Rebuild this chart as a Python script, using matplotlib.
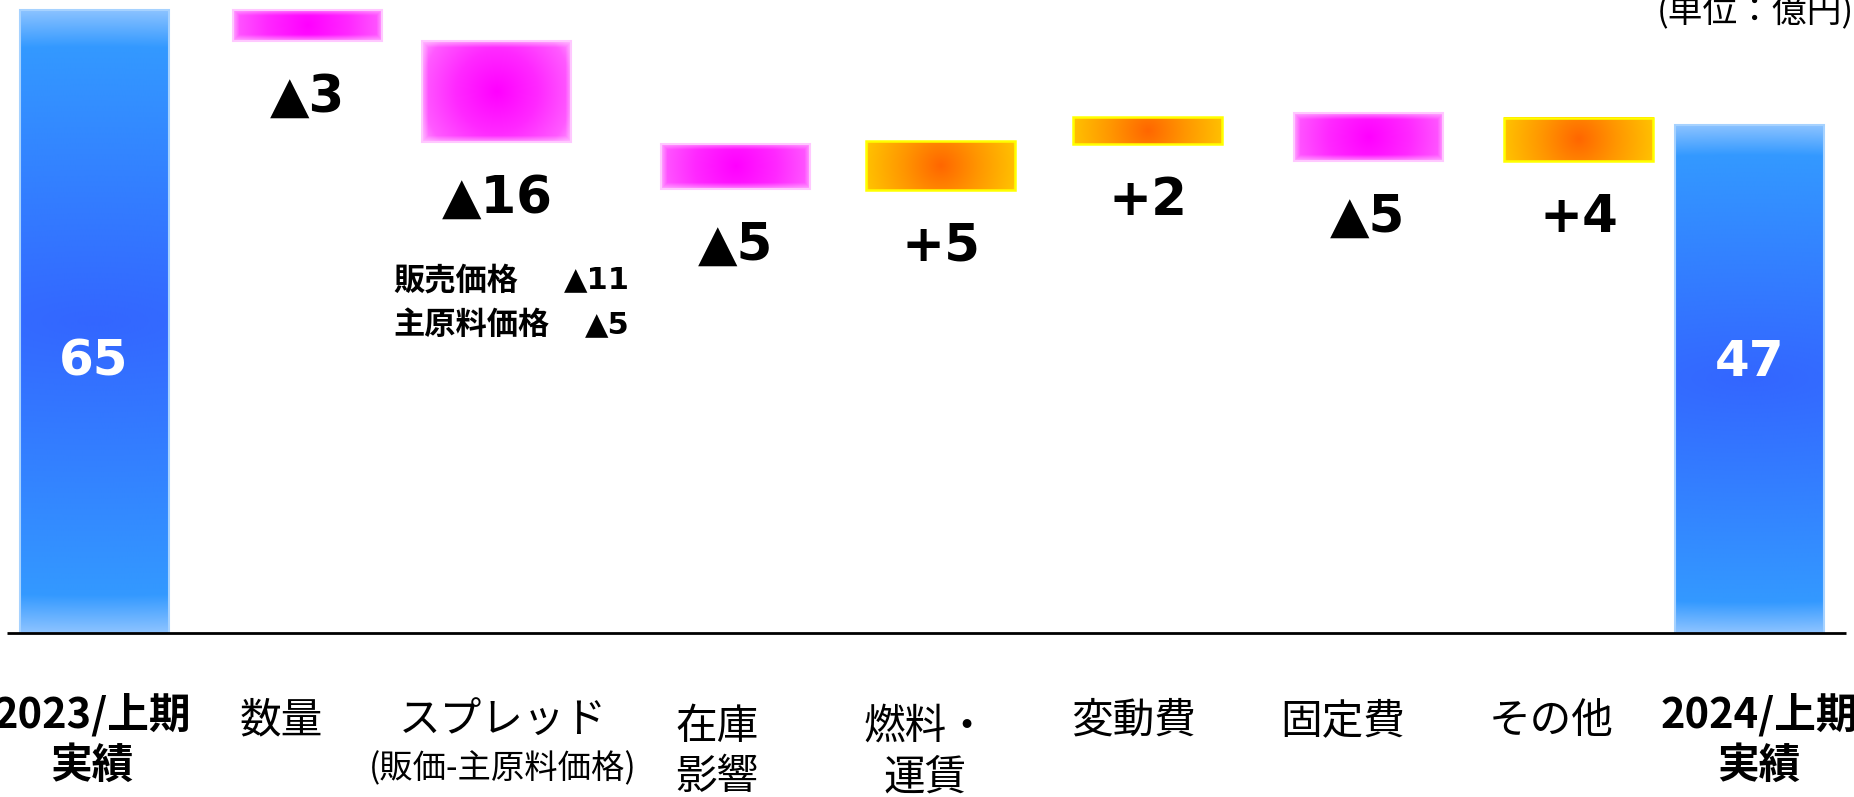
import numpy as np
import matplotlib.pyplot as plt
from matplotlib.patches import Rectangle

plt.rcParams['font.family'] = ['Noto Sans CJK JP', 'DejaVu Sans']

categories = ['2023/上期\n実績', '数量', 'スプレッド', '在庫\n影響', '燃料・\n運賃',
              '変動費', '固定費', 'その他', '2024/上期\n実績']
values = [65, -3, -16, -5, 5, 2, -5, 4, 47]
kinds = ['total', 'neg', 'neg', 'neg', 'pos', 'pos', 'neg', 'pos', 'total']
# bar extents as drawn in the source slide (not to scale with the values)
bar_low = [0, 61.7, 51.2, 46.3, 46.2, 51.0, 49.2, 49.2, 0]
bar_high = [65, 65, 61.7, 51.0, 51.3, 53.8, 54.2, 53.7, 53.0]
spread_sub = '(販価-主原料価格)'
note_names = ['販売価格', '主原料価格']
note_values = [-11, -5]
unit_label = '(単位：億円)'

# layout
W, H, DPI = 18.54, 7.97, 100
XLIM = (-0.4415, 8.455)
YLIM = (-17.1, 66.0)
bar_w = 0.715
bar_shift = [0.01, 0.034, -0.057, 0.09, 0.072, 0.065, 0.123, 0.135, -0.047]
label_shift = [0, -0.09, -0.03, 0, 0, 0, 0, 0, 0]

fig = plt.figure(figsize=(W, H), dpi=DPI)
ax = fig.add_axes([0, 0, 1, 1])

px_x = W * DPI / (XLIM[1] - XLIM[0])
px_y = H * DPI / (YLIM[1] - YLIM[0])

styles = {
    'total': dict(stops=[0, 0.45, 0.88, 1.0],
                  cols=[(51, 102, 255), (51, 128, 255), (51, 153, 255), (140, 195, 255)],
                  edge='#a6d2ff', lw=1.5, soft=0),
    'neg': dict(stops=[0, 0.55, 1.0, 1.25],
                cols=[(255, 0, 255), (255, 40, 255), (255, 90, 255), (255, 160, 255)],
                edge='#ffc8ff', lw=1.5, soft=6),
    'pos': dict(stops=[0, 0.5, 1.0, 1.1],
                cols=[(255, 102, 0), (255, 150, 0), (255, 192, 0), (255, 205, 60)],
                edge='#ffff00', lw=1.8, soft=0),
}


def grad_bar(xc, y0, y1, st):
    wpx = bar_w * px_x
    hpx = (y1 - y0) * px_y
    nx, ny = int(wpx), max(int(hpx), 2)
    X, Y = np.meshgrid(np.linspace(-1, 1, nx), np.linspace(-1, 1, ny))
    if st is styles['total']:
        d = np.sqrt((X * wpx / hpx * 0.3) ** 2 + Y ** 2)
    else:
        r = max(wpx, hpx)
        d = np.sqrt(X ** 2 * (wpx / r) ** 2 + (Y * hpx / r) ** 2)
    cols = np.array(st['cols']) / 255
    img = np.dstack([np.interp(d, st['stops'], cols[:, k]) for k in range(3)])
    if st['soft']:
        ex = (1 - np.abs(X)) * wpx / 2
        ey = (1 - np.abs(Y)) * hpx / 2
        e = np.minimum(ex, ey)
        f = np.clip(1 - e / st['soft'], 0, 1)[..., None] * 0.55
        img = img * (1 - f) + np.array([1, 0.85, 1]) * f
    ax.imshow(img, extent=(xc - bar_w / 2, xc + bar_w / 2, y0, y1), origin='lower',
              aspect='auto', interpolation='bilinear', zorder=2)
    ax.add_patch(Rectangle((xc - bar_w / 2, y0), bar_w, y1 - y0, fill=False,
                           ec=st['edge'], lw=st['lw'], zorder=3))


num_font = dict(family=['DejaVu Sans', 'Noto Sans CJK JP'], fontweight='bold')

for i, v in enumerate(values):
    xc = i + bar_shift[i]
    grad_bar(xc, bar_low[i], bar_high[i], styles[kinds[i]])
    if kinds[i] == 'total':
        ax.text(xc, 28.3, str(v), color='white', fontsize=36, ha='center',
                va='center', zorder=5, **num_font)
    else:
        s = ('▲%d' if v < 0 else '+%d') % abs(v)
        ax.annotate(s, (xc, bar_low[i]), xytext=(0, -41), textcoords='offset points',
                    ha='center', va='center', fontsize=37, zorder=5, **num_font)

# spread breakdown
for k, (nm, nv) in enumerate(zip(note_names, note_values)):
    y = 36.8 - k * 4.7
    ax.text(2 - 0.556, y, nm, fontsize=22.5, fontweight='bold', ha='left', va='center')
    ax.text(2 + 0.58, y, '▲%d' % abs(nv), fontsize=22, ha='right', va='center', **num_font)

# baseline
ax.plot([-0.408, 8.417], [0, 0], color='black', lw=2, zorder=4, solid_capstyle='butt')

# category labels
for i, c in enumerate(categories):
    bold = kinds[i] == 'total'
    lines = c.split('\n')
    x = i + label_shift[i]
    if bold:
        y1, y2 = -8.5, -13.9
    elif len(lines) > 1:
        y1, y2 = -9.85, -15.1
    else:
        y1, y2 = -9.2, None
    w = 'bold' if bold else 'normal'
    ax.text(x, y1, lines[0], fontsize=30, ha='center', va='center', fontweight=w)
    if len(lines) > 1:
        ax.text(x, y2, lines[1], fontsize=30, ha='center', va='center', fontweight=w)
ax.text(2 + label_shift[2], -14.2, spread_sub, fontsize=24, ha='center', va='center')

fig.text(1.0, 1 - 11 / 797, unit_label, fontsize=25, ha='right', va='center')

ax.set_xlim(*XLIM)
ax.set_ylim(*YLIM)
ax.axis('off')

fig.savefig('out.png', dpi=DPI)
